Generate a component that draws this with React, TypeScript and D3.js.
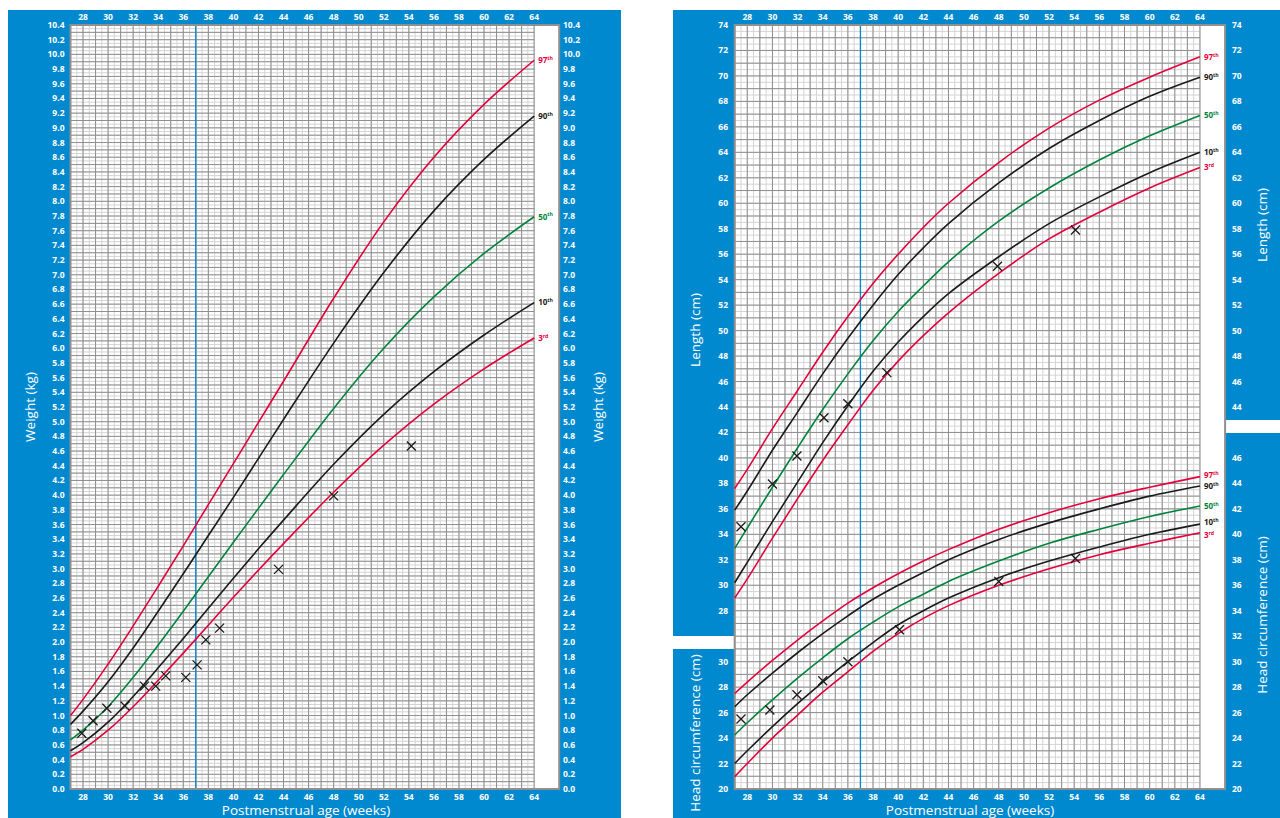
import React from 'react';
import * as d3 from 'd3';

// ---------- DATA ----------
const weekTicks = [28, 30, 32, 34, 36, 38, 40, 42, 44, 46, 48, 50, 52, 54, 56, 58, 60, 62, 64];
const weightTicks = [0, 0.2, 0.4, 0.6, 0.8, 1, 1.2, 1.4, 1.6, 1.8, 2, 2.2, 2.4, 2.6, 2.8, 3, 3.2, 3.4, 3.6, 3.8, 4, 4.2, 4.4, 4.6, 4.8, 5, 5.2, 5.4, 5.6, 5.8, 6, 6.2, 6.4, 6.6, 6.8, 7, 7.2, 7.4, 7.6, 7.8, 8, 8.2, 8.4, 8.6, 8.8, 9, 9.2, 9.4, 9.6, 9.8, 10, 10.2, 10.4];
const lengthTicksLeft = [28, 30, 32, 34, 36, 38, 40, 42, 44, 46, 48, 50, 52, 54, 56, 58, 60, 62, 64, 66, 68, 70, 72, 74];
const lengthTicksRight = [44, 46, 48, 50, 52, 54, 56, 58, 60, 62, 64, 66, 68, 70, 72, 74];
const hcTicksLeft = [20, 22, 24, 26, 28, 30];
const hcTicksRight = [20, 22, 24, 26, 28, 30, 32, 34, 36, 38, 40, 42, 44, 46];

const percentileNames = ['97', '90', '50', '10', '3'];
const percentileSuffix = ['th', 'th', 'th', 'th', 'rd'];
const percentileColors = ['#e4003b', '#1a1a1a', '#00843d', '#1a1a1a', '#e4003b'];

const curveWeeks = [27, 28, 30, 32, 34, 36, 38, 40, 42, 44, 48, 52, 56, 60, 64];

const weight97 = [1.0, 1.22, 1.7, 2.22, 2.76, 3.31, 3.87, 4.43, 4.99, 5.55, 6.68, 7.72, 8.6, 9.32, 9.92];
const weight90 = [0.88, 1.06, 1.46, 1.92, 2.42, 2.93, 3.45, 3.97, 4.5, 5.03, 6.07, 7.03, 7.87, 8.57, 9.16];
const weight50 = [0.67, 0.8, 1.12, 1.52, 1.96, 2.42, 2.89, 3.36, 3.82, 4.28, 5.18, 6.0, 6.7, 7.29, 7.79];
const weight10 = [0.52, 0.63, 0.91, 1.26, 1.65, 2.05, 2.46, 2.87, 3.27, 3.66, 4.42, 5.1, 5.68, 6.18, 6.62];
const weight3 = [0.44, 0.54, 0.8, 1.12, 1.48, 1.85, 2.23, 2.61, 2.98, 3.34, 4.04, 4.68, 5.24, 5.72, 6.14];

const length97 = [37.6, 39.1, 42.3, 45.3, 48.3, 51.1, 53.7, 56.0, 58.1, 60.0, 63.2, 65.9, 68.1, 69.9, 71.5];
const length90 = [35.9, 37.4, 40.6, 43.6, 46.6, 49.4, 52.0, 54.4, 56.5, 58.4, 61.6, 64.3, 66.5, 68.4, 69.9];
const length50 = [32.9, 34.5, 37.7, 40.8, 43.8, 46.6, 49.2, 51.5, 53.5, 55.4, 58.6, 61.2, 63.4, 65.3, 66.9];
const length10 = [30.2, 31.8, 35.0, 38.1, 41.2, 44.1, 46.8, 49.1, 51.1, 52.9, 55.8, 58.4, 60.5, 62.4, 64.0];
const length3 = [29.0, 30.5, 33.7, 36.8, 39.8, 42.6, 45.3, 47.6, 49.6, 51.4, 54.5, 57.2, 59.3, 61.2, 62.8];

const hc97 = [27.5, 28.4, 30.1, 31.7, 33.2, 34.6, 35.8, 36.9, 37.9, 38.8, 40.4, 41.7, 42.8, 43.7, 44.53];
const hc90 = [26.46, 27.4, 29.1, 30.7, 32.2, 33.6, 34.9, 36.0, 37.0, 38.0, 39.6, 40.9, 42.0, 43.0, 43.8];
const hc50 = [24.24, 25.2, 27.0, 28.7, 30.3, 31.8, 33.1, 34.3, 35.3, 36.3, 37.9, 39.3, 40.4, 41.4, 42.23];
const hc10 = [22.0, 23.0, 24.9, 26.7, 28.4, 30.0, 31.5, 32.9, 34.0, 35.0, 36.6, 37.9, 39.0, 40.0, 40.8];
const hc3 = [20.97, 22.0, 24.0, 25.8, 27.6, 29.2, 30.8, 32.2, 33.4, 34.4, 36.0, 37.3, 38.4, 39.3, 40.13];

const weightObsWeeks = [27.9, 28.8, 29.9, 31.35, 32.9, 33.8, 34.6, 36.2, 37.1, 37.8, 38.9, 43.6, 48.0, 54.2];
const weightObs = [0.76, 0.93, 1.1, 1.13, 1.4, 1.4, 1.54, 1.52, 1.69, 2.03, 2.19, 2.99, 3.99, 4.67];
const lengthObsWeeks = [27.5, 30.0, 31.95, 34.1, 36.0, 39.1, 47.9, 54.1];
const lengthObs = [34.6, 37.95, 40.15, 43.15, 44.25, 46.7, 55.05, 57.9];
const hcObsWeeks = [27.5, 29.8, 31.95, 34.0, 36.0, 40.1, 48.0, 54.1];
const hcObs = [25.5, 26.2, 27.4, 28.5, 30.0, 32.5, 36.3, 38.1];

// ---------- STYLE ----------
const BLUE = '#0089cf';
const FONT = "'Open Sans', 'Noto Sans', sans-serif";
const GRID_DARK = '#8f8f8f';
const GRID_LIGHT = '#d4d4d4';

type Scale = d3.ScaleLinear<number, number>;

function Grid({ x, y, yMin, yMax, yMajor, yMinor }: { x: Scale; y: Scale; yMin: number; yMax: number; yMajor: number; yMinor: number }) {
  const x0 = x(27), x1 = x(64);
  const y0 = y(yMin), y1 = y(yMax);
  const vMinor: number[] = [];
  for (let w = 27; w <= 64.0001; w += 0.5) vMinor.push(w);
  const vMajor = d3.range(27, 65, 1);
  const hMinor: number[] = [];
  const nMinor = Math.round((yMax - yMin) / yMinor);
  for (let i = 0; i <= nMinor; i++) hMinor.push(yMin + i * yMinor);
  const hMajor: number[] = [];
  const nMajor = Math.round((yMax - yMin) / yMajor);
  for (let i = 0; i <= nMajor; i++) hMajor.push(yMin + i * yMajor);
  return (
    <g>
      {vMinor.map((w, i) => (
        <line key={'vm' + i} x1={x(w)} x2={x(w)} y1={y0} y2={y1} stroke={GRID_LIGHT} strokeWidth={1} />
      ))}
      {hMinor.map((v, i) => (
        <line key={'hm' + i} x1={x0} x2={x1} y1={y(v)} y2={y(v)} stroke={GRID_LIGHT} strokeWidth={1} />
      ))}
      {vMajor.map((w, i) => (
        <line key={'vM' + i} x1={x(w)} x2={x(w)} y1={y0} y2={y1} stroke={GRID_DARK} strokeWidth={1} />
      ))}
      {hMajor.map((v, i) => (
        <line key={'hM' + i} x1={x0} x2={x1} y1={y(v)} y2={y(v)} stroke={GRID_DARK} strokeWidth={1} />
      ))}
    </g>
  );
}

function Curves({ x, y, series, labelShift }: { x: Scale; y: Scale; series: number[][]; labelShift: number[] }) {
  const line = d3
    .line<number>()
    .x((_, i) => x(curveWeeks[i]))
    .y((d) => y(d))
    .curve(d3.curveCatmullRom.alpha(0.5));
  return (
    <g>
      {series.map((s, k) => (
        <path key={k} d={line(s) || ''} fill="none" stroke={percentileColors[k]} strokeWidth={1.6} />
      ))}
      {series.map((s, k) => (
        <text key={'l' + k} x={x(64) + 4} y={y(s[s.length - 1]) + labelShift[k]} dy="0.35em" fill={percentileColors[k]} fontFamily={FONT} fontWeight={700} fontSize={8}>
          {percentileNames[k]}
          <tspan fontSize={5.2} dy="-0.6em">{percentileSuffix[k]}</tspan>
        </text>
      ))}
    </g>
  );
}

function Crosses({ x, y, weeks, vals }: { x: Scale; y: Scale; weeks: number[]; vals: number[] }) {
  const r = 4.5;
  return (
    <g stroke="#1a1a1a" strokeWidth={1.3}>
      {weeks.map((w, i) => {
        const cx = x(w), cy = y(vals[i]);
        return <path key={i} d={`M${cx - r},${cy - r}L${cx + r},${cy + r}M${cx - r},${cy + r}L${cx + r},${cy - r}`} />;
      })}
    </g>
  );
}

function XLabels({ x, yTop, yBottom }: { x: Scale; yTop: number; yBottom: number }) {
  return (
    <g fill="#fff" fontFamily={FONT} fontWeight={700} fontSize={8.5} textAnchor="middle">
      {weekTicks.map((w) => (
        <React.Fragment key={w}>
          <text x={x(w)} y={yTop} dy="0.35em">{w}</text>
          <text x={x(w)} y={yBottom} dy="0.35em">{w}</text>
        </React.Fragment>
      ))}
    </g>
  );
}

function YLabels({ y, ticks, xPos, anchor, fmt }: { y: Scale; ticks: number[]; xPos: number; anchor: string; fmt: (v: number) => string }) {
  return (
    <g fill="#fff" fontFamily={FONT} fontWeight={700} fontSize={8.5} textAnchor={anchor}>
      {ticks.map((t) => (
        <text key={t} x={xPos} y={y(t)} dy="0.35em">{fmt(t)}</text>
      ))}
    </g>
  );
}

function Title({ x, y, text, rotate }: { x: number; y: number; text: string; rotate?: boolean }) {
  return (
    <text x={x} y={y} transform={rotate ? `rotate(-90 ${x} ${y})` : undefined} fill="#fff" fontFamily={FONT} fontSize={13.5} textAnchor="middle" dominantBaseline="central">
      {text}
    </text>
  );
}

export default function App() {
  const top = 25, bottom = 789;
  const xW = d3.scaleLinear().domain([27, 66]).range([70.5, 559.2]);
  const yW = d3.scaleLinear().domain([0, 10.4]).range([bottom, top]);
  const xR = d3.scaleLinear().domain([27, 66]).range([734.7, 1225.1]);
  const yL = d3.scaleLinear().domain([14, 74]).range([bottom, top]);
  const yH = d3.scaleLinear().domain([20, 80]).range([bottom, top]);

  const f1 = d3.format('.1f');
  const f0 = d3.format('d');

  return (
    <svg width={1280} height={818} style={{ position: 'absolute', left: 0, top: 0 }}>
      <rect x={0} y={0} width={1280} height={818} fill="#fff" />
      {/* LEFT PANEL */}
      <rect x={8} y={10} width={613} height={808} fill={BLUE} />
      <rect x={xW(27)} y={top} width={xW(66) - xW(27)} height={bottom - top} fill="#fff" />
      <Grid x={xW} y={yW} yMin={0} yMax={10.4} yMajor={0.1} yMinor={0.05} />
      <line x1={xW(37)} x2={xW(37)} y1={top} y2={bottom} stroke={BLUE} strokeWidth={1.3} />
      <rect x={xW(27)} y={top} width={xW(66) - xW(27)} height={bottom - top} fill="none" stroke={GRID_DARK} strokeWidth={2} />
      <Curves x={xW} y={yW} series={[weight97, weight90, weight50, weight10, weight3]} labelShift={[0, 0, 0, 0, 0]} />
      <Crosses x={xW} y={yW} weeks={weightObsWeeks} vals={weightObs} />
      <XLabels x={xW} yTop={17} yBottom={797} />
      <YLabels y={yW} ticks={weightTicks} xPos={64.5} anchor="end" fmt={f1} />
      <YLabels y={yW} ticks={weightTicks} xPos={563} anchor="start" fmt={f1} />
      <Title x={30} y={407} text="Weight (kg)" rotate />
      <Title x={598} y={407} text="Weight (kg)" rotate />
      <Title x={306} y={809.5} text="Postmenstrual age (weeks)" />

      {/* RIGHT PANEL */}
      <rect x={673} y={10} width={607} height={808} fill={BLUE} />
      <rect x={673} y={636} width={61.7} height={13} fill="#fff" />
      <rect x={1225.1} y={420} width={55} height={13} fill="#fff" />
      <rect x={xR(27)} y={top} width={xR(66) - xR(27)} height={bottom - top} fill="#fff" />
      <Grid x={xR} y={yL} yMin={14} yMax={74} yMajor={1} yMinor={0.5} />
      <line x1={xR(37)} x2={xR(37)} y1={top} y2={bottom} stroke={BLUE} strokeWidth={1.3} />
      <rect x={xR(27)} y={top} width={xR(66) - xR(27)} height={bottom - top} fill="none" stroke={GRID_DARK} strokeWidth={2} />
      <Curves x={xR} y={yL} series={[length97, length90, length50, length10, length3]} labelShift={[0, 0, 0, 0, 0]} />
      <Curves x={xR} y={yH} series={[hc97, hc90, hc50, hc10, hc3]} labelShift={[-1.5, 0, 0, -1.5, 2.5]} />
      <Crosses x={xR} y={yL} weeks={lengthObsWeeks} vals={lengthObs} />
      <Crosses x={xR} y={yH} weeks={hcObsWeeks} vals={hcObs} />
      <XLabels x={xR} yTop={17} yBottom={797} />
      <YLabels y={yL} ticks={lengthTicksLeft} xPos={728} anchor="end" fmt={f0} />
      <YLabels y={yH} ticks={hcTicksLeft} xPos={728} anchor="end" fmt={f0} />
      <YLabels y={yL} ticks={lengthTicksRight} xPos={1232} anchor="start" fmt={f0} />
      <YLabels y={yH} ticks={hcTicksRight} xPos={1232} anchor="start" fmt={f0} />
      <Title x={695} y={330} text="Length (cm)" rotate />
      <Title x={1262} y={225} text="Length (cm)" rotate />
      <Title x={695} y={733} text="Head circumference (cm)" rotate />
      <Title x={1262} y={615} text="Head circumference (cm)" rotate />
      <Title x={970} y={809.5} text="Postmenstrual age (weeks)" />
    </svg>
  );
}
